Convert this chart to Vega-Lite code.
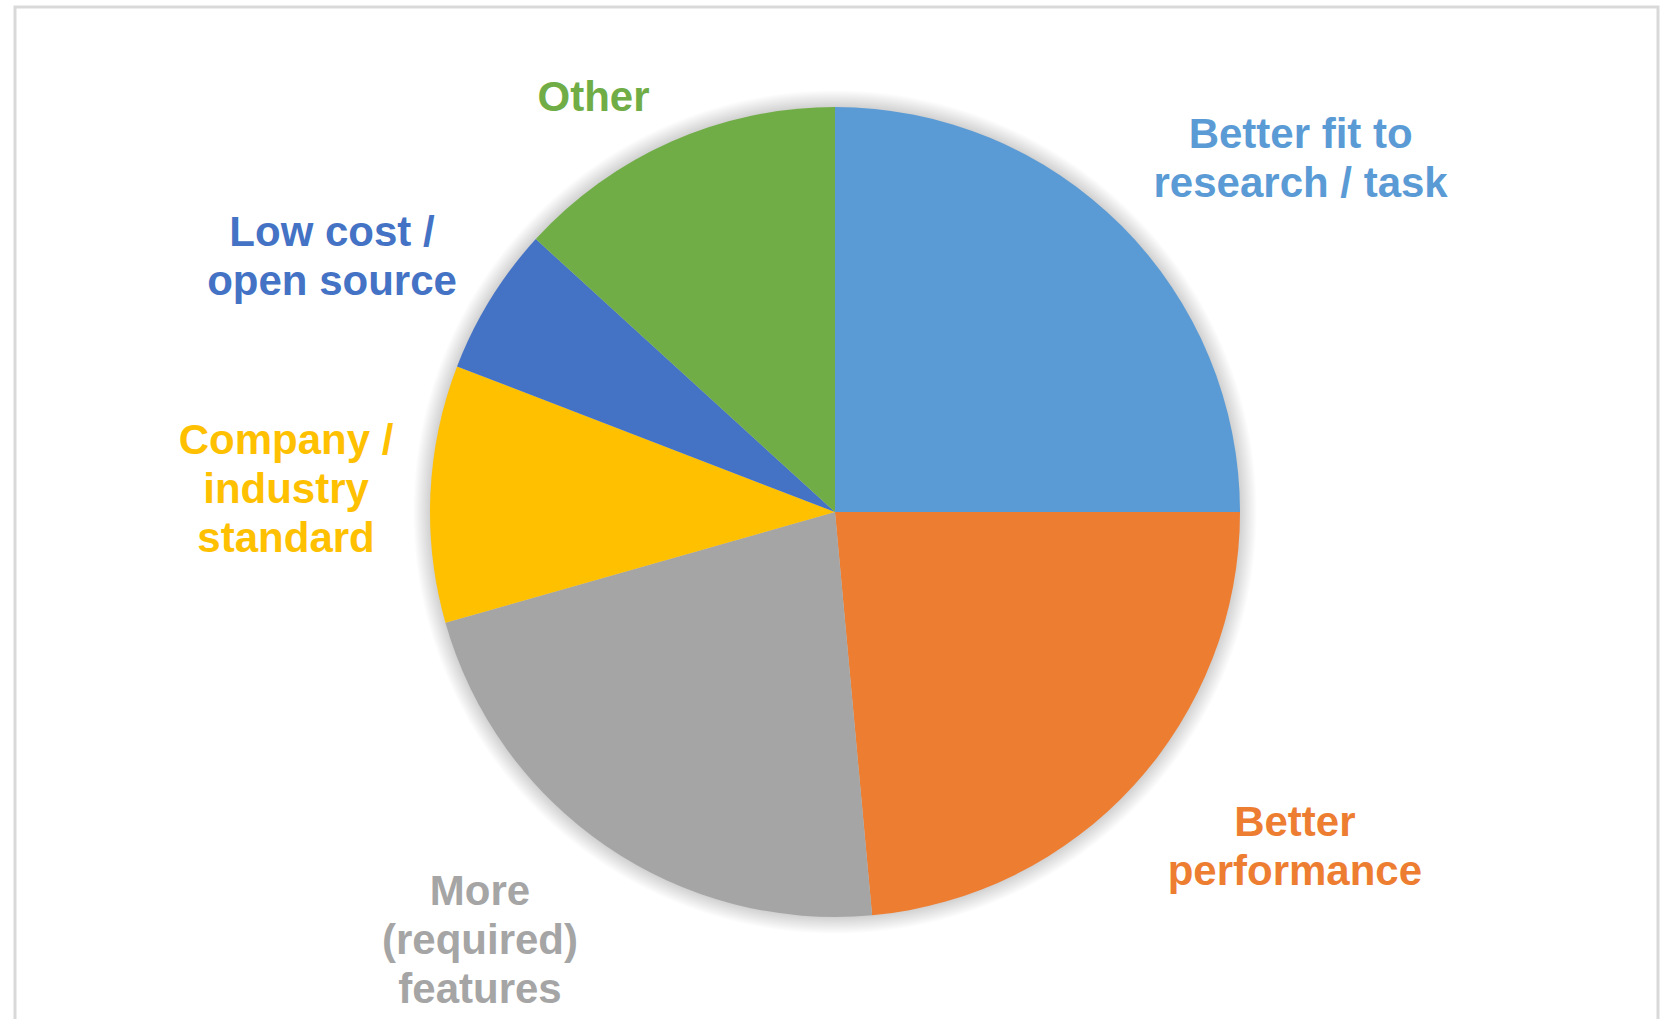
{
  "$schema": "https://vega.github.io/schema/vega-lite/v6.json",
  "width": 1643,
  "height": 1032,
  "autosize": "none",
  "padding": {"left": 15, "top": 7, "right": 4, "bottom": -20},
  "background": "white",
  "view": {"stroke": "#d9d9d9", "strokeWidth": 3},
  "data": {
    "values": [
      {"i": 0, "label": "Better fit to\nresearch / task", "value": 25.0},
      {"i": 1, "label": "Better\nperformance", "value": 23.54},
      {"i": 2, "label": "More\n(required)\nfeatures", "value": 22.05},
      {"i": 3, "label": "Company /\nindustry\nstandard", "value": 10.26},
      {"i": 4, "label": "Low cost /\nopen source", "value": 5.92},
      {"i": 5, "label": "Other", "value": 13.23}
    ]
  },
  "layer": [
    {
      "data": {"values": [{"shadow": 1}]},
      "mark": {
        "type": "arc",
        "theta": 0,
        "theta2": 6.2832,
        "outerRadius": 422,
        "xOffset": -1.5,
        "yOffset": -11,
        "fill": {
          "gradient": "radial",
          "x1": 0.5, "y1": 0.5, "r1": 0,
          "x2": 0.5, "y2": 0.5, "r2": 0.5,
          "stops": [
            {"offset": 0, "color": "rgba(0,0,0,0.2)"},
            {"offset": 0.955, "color": "rgba(0,0,0,0.2)"},
            {"offset": 1, "color": "rgba(0,0,0,0)"}
          ]
        }
      },
      "encoding": {}
    },
    {
      "mark": {"type": "arc", "outerRadius": 405, "xOffset": -1.5, "yOffset": -11},
      "encoding": {
        "theta": {"field": "value", "type": "quantitative", "stack": true},
        "order": {"field": "i", "type": "quantitative"},
        "color": {
          "field": "label",
          "type": "nominal",
          "scale": {
            "domain": ["Better fit to\nresearch / task", "Better\nperformance", "More\n(required)\nfeatures", "Company /\nindustry\nstandard", "Low cost /\nopen source", "Other"],
            "range": ["#5B9BD5", "#ED7D31", "#A5A5A5", "#FFC000", "#4472C4", "#70AD47"]
          },
          "legend": null
        }
      }
    },
    {
      "mark": {
        "type": "text",
        "radius": 440,
        "xOffset": -1.5,
        "yOffset": -11,
        "font": "Liberation Sans",
        "fontWeight": "bold",
        "fontSize": 42,
        "lineHeight": 49,
        "lineBreak": "\n",
        "align": "center",
        "baseline": "middle",
        "dx": {"expr": "[154.5, 134.8, -106.2, -109.4, -128.7, -63.8][datum.i]"},
        "dy": {"expr": "[-65.4, 14.6, 17.1, -51.4, -48.1, -11.9][datum.i]"}
      },
      "encoding": {
        "theta": {"field": "value", "type": "quantitative", "stack": true},
        "order": {"field": "i", "type": "quantitative"},
        "text": {"field": "label", "type": "nominal"},
        "color": {
          "field": "label",
          "type": "nominal",
          "scale": {
            "domain": ["Better fit to\nresearch / task", "Better\nperformance", "More\n(required)\nfeatures", "Company /\nindustry\nstandard", "Low cost /\nopen source", "Other"],
            "range": ["#5B9BD5", "#ED7D31", "#A5A5A5", "#FFC000", "#4472C4", "#70AD47"]
          },
          "legend": null
        }
      }
    }
  ]
}
